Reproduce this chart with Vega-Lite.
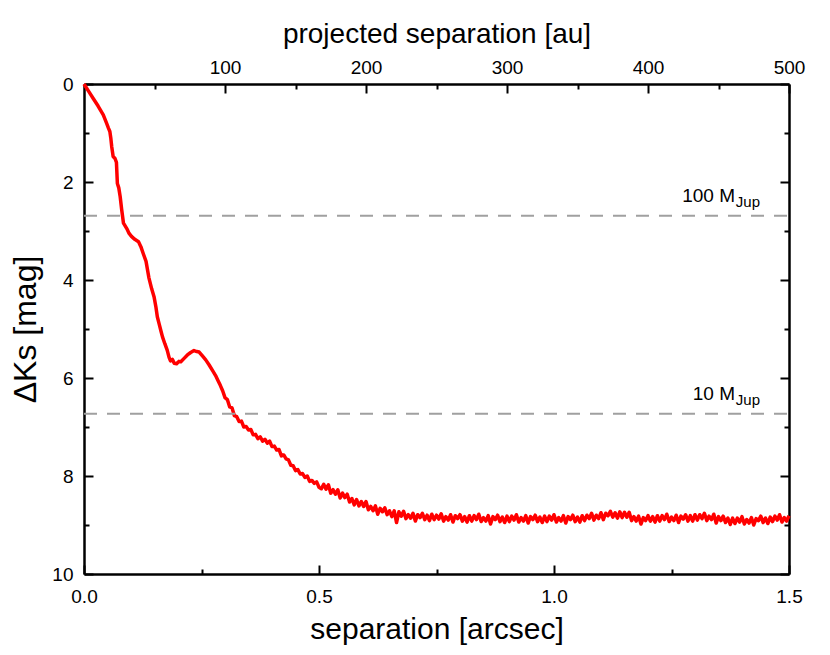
{
  "$schema": "https://vega.github.io/schema/vega-lite/v6.json",
  "width": 705,
  "height": 490,
  "autosize": {"type": "none"},
  "padding": {"left": 84, "top": 84, "right": 41, "bottom": 81},
  "background": "white",
  "config": {
    "view": {"stroke": null},
    "axis": {
      "grid": false,
      "labelFont": "Liberation Sans",
      "labelFontSize": 19,
      "labelColor": "black",
      "labelFlush": false,
      "labelOverlap": false,
      "tickColor": "black",
      "tickWidth": 2,
      "tickSize": -9,
      "domainColor": "black",
      "domainWidth": 2.5,
      "titleFont": "Liberation Sans",
      "titleFontWeight": "normal",
      "titleColor": "black",
      "titleFontSize": 30
    }
  },
  "datasets": {
    "curve": [
      {"sep":0.000,"dk":0.00},{"sep":0.010,"dk":0.15},{"sep":0.020,"dk":0.30},{"sep":0.030,"dk":0.45},{"sep":0.041,"dk":0.63},
      {"sep":0.048,"dk":0.80},{"sep":0.052,"dk":0.90},{"sep":0.055,"dk":0.97},{"sep":0.057,"dk":1.10},{"sep":0.059,"dk":1.28},
      {"sep":0.062,"dk":1.48},{"sep":0.066,"dk":1.52},{"sep":0.069,"dk":1.60},{"sep":0.071,"dk":2.03},{"sep":0.074,"dk":2.12},
      {"sep":0.077,"dk":2.30},{"sep":0.080,"dk":2.55},{"sep":0.084,"dk":2.84},{"sep":0.091,"dk":2.95},{"sep":0.096,"dk":3.05},
      {"sep":0.101,"dk":3.11},{"sep":0.108,"dk":3.17},{"sep":0.116,"dk":3.22},{"sep":0.121,"dk":3.32},{"sep":0.126,"dk":3.46},
      {"sep":0.132,"dk":3.62},{"sep":0.138,"dk":3.95},{"sep":0.144,"dk":4.18},{"sep":0.149,"dk":4.34},{"sep":0.153,"dk":4.55},
      {"sep":0.156,"dk":4.75},{"sep":0.160,"dk":4.90},{"sep":0.164,"dk":5.05},{"sep":0.167,"dk":5.16},{"sep":0.172,"dk":5.30},
      {"sep":0.177,"dk":5.43},{"sep":0.181,"dk":5.58},{"sep":0.184,"dk":5.65},{"sep":0.188,"dk":5.62},{"sep":0.192,"dk":5.70},
      {"sep":0.197,"dk":5.71},{"sep":0.202,"dk":5.66},{"sep":0.206,"dk":5.67},{"sep":0.213,"dk":5.60},{"sep":0.220,"dk":5.53},
      {"sep":0.227,"dk":5.48},{"sep":0.234,"dk":5.44},{"sep":0.240,"dk":5.46},{"sep":0.245,"dk":5.47},{"sep":0.252,"dk":5.55},
      {"sep":0.259,"dk":5.63},{"sep":0.266,"dk":5.73},{"sep":0.273,"dk":5.84},
      {"sep":0.280,"dk":5.95},{"sep":0.285,"dk":6.05},{"sep":0.290,"dk":6.15},{"sep":0.295,"dk":6.26},
      {"sep":0.300,"dk":6.40},{"sep":0.305,"dk":6.44},{"sep":0.310,"dk":6.59},{"sep":0.315,"dk":6.61},{"sep":0.320,"dk":6.77},
      {"sep":0.325,"dk":6.79},{"sep":0.330,"dk":6.89},{"sep":0.335,"dk":6.88},{"sep":0.340,"dk":7.00},{"sep":0.345,"dk":6.99},
      {"sep":0.350,"dk":7.06},{"sep":0.355,"dk":7.05},{"sep":0.360,"dk":7.16},{"sep":0.365,"dk":7.15},{"sep":0.370,"dk":7.24},
      {"sep":0.375,"dk":7.20},{"sep":0.380,"dk":7.29},{"sep":0.385,"dk":7.25},{"sep":0.390,"dk":7.33},{"sep":0.395,"dk":7.29},
      {"sep":0.400,"dk":7.40},{"sep":0.405,"dk":7.39},{"sep":0.410,"dk":7.47},{"sep":0.415,"dk":7.46},{"sep":0.420,"dk":7.59},
      {"sep":0.425,"dk":7.57},{"sep":0.430,"dk":7.65},{"sep":0.435,"dk":7.67},{"sep":0.440,"dk":7.78},{"sep":0.445,"dk":7.79},
      {"sep":0.450,"dk":7.89},{"sep":0.455,"dk":7.87},{"sep":0.460,"dk":7.96},{"sep":0.465,"dk":7.95},{"sep":0.470,"dk":8.03},
      {"sep":0.475,"dk":8.00},{"sep":0.480,"dk":8.11},{"sep":0.485,"dk":8.09},{"sep":0.490,"dk":8.15},{"sep":0.495,"dk":8.12},
      {"sep":0.500,"dk":8.23},
      {"sep":0.505,"dk":8.26},{"sep":0.510,"dk":8.17},{"sep":0.515,"dk":8.27},{"sep":0.520,"dk":8.18},{"sep":0.525,"dk":8.35},
      {"sep":0.530,"dk":8.28},{"sep":0.535,"dk":8.37},{"sep":0.540,"dk":8.28},{"sep":0.545,"dk":8.45},{"sep":0.550,"dk":8.35},
      {"sep":0.555,"dk":8.44},{"sep":0.560,"dk":8.37},{"sep":0.565,"dk":8.53},{"sep":0.570,"dk":8.46},{"sep":0.575,"dk":8.59},
      {"sep":0.580,"dk":8.48},{"sep":0.585,"dk":8.61},{"sep":0.590,"dk":8.52},{"sep":0.595,"dk":8.62},{"sep":0.600,"dk":8.52},
      {"sep":0.605,"dk":8.69},{"sep":0.610,"dk":8.62},{"sep":0.615,"dk":8.71},{"sep":0.620,"dk":8.61},{"sep":0.625,"dk":8.78},
      {"sep":0.630,"dk":8.66},{"sep":0.635,"dk":8.73},{"sep":0.640,"dk":8.65},{"sep":0.645,"dk":8.79},{"sep":0.650,"dk":8.71},
      {"sep":0.655,"dk":8.83},{"sep":0.660,"dk":8.71},{"sep":0.665,"dk":8.95},{"sep":0.670,"dk":8.73},{"sep":0.675,"dk":8.82},
      {"sep":0.680,"dk":8.72},{"sep":0.685,"dk":8.87},{"sep":0.690,"dk":8.79},{"sep":0.695,"dk":8.86},{"sep":0.700,"dk":8.76},
      {"sep":0.705,"dk":8.92},{"sep":0.710,"dk":8.79},{"sep":0.715,"dk":8.85},{"sep":0.720,"dk":8.76},{"sep":0.725,"dk":8.89},
      {"sep":0.730,"dk":8.80},{"sep":0.735,"dk":8.91},{"sep":0.740,"dk":8.78},{"sep":0.745,"dk":8.89},{"sep":0.750,"dk":8.80},
      {"sep":0.755,"dk":8.88},{"sep":0.760,"dk":8.77},{"sep":0.765,"dk":8.92},{"sep":0.770,"dk":8.83},{"sep":0.775,"dk":8.90},
      {"sep":0.780,"dk":8.79},{"sep":0.785,"dk":8.94},{"sep":0.790,"dk":8.81},{"sep":0.795,"dk":8.87},{"sep":0.800,"dk":8.79},
      {"sep":0.805,"dk":8.92},{"sep":0.810,"dk":8.83},{"sep":0.815,"dk":8.94},{"sep":0.820,"dk":8.81},{"sep":0.825,"dk":8.92},
      {"sep":0.830,"dk":8.81},{"sep":0.835,"dk":8.89},{"sep":0.840,"dk":8.78},{"sep":0.845,"dk":8.93},{"sep":0.850,"dk":8.85},
      {"sep":0.855,"dk":8.92},{"sep":0.860,"dk":8.81},{"sep":0.865,"dk":8.98},{"sep":0.870,"dk":8.83},{"sep":0.875,"dk":8.89},
      {"sep":0.880,"dk":8.80},{"sep":0.885,"dk":8.93},{"sep":0.890,"dk":8.84},{"sep":0.895,"dk":8.95},{"sep":0.900,"dk":8.82},
      {"sep":0.905,"dk":8.93},{"sep":0.910,"dk":8.82},{"sep":0.915,"dk":8.90},{"sep":0.920,"dk":8.79},{"sep":0.925,"dk":8.94},
      {"sep":0.930,"dk":8.85},{"sep":0.935,"dk":8.92},{"sep":0.940,"dk":8.81},{"sep":0.945,"dk":8.96},{"sep":0.950,"dk":8.83},
      {"sep":0.955,"dk":8.89},{"sep":0.960,"dk":8.80},{"sep":0.965,"dk":8.93},{"sep":0.970,"dk":8.84},{"sep":0.975,"dk":8.95},
      {"sep":0.980,"dk":8.82},{"sep":0.985,"dk":8.93},{"sep":0.990,"dk":8.82},{"sep":0.995,"dk":8.90},{"sep":1.000,"dk":8.79},
      {"sep":1.005,"dk":8.94},{"sep":1.010,"dk":8.85},{"sep":1.015,"dk":8.92},{"sep":1.020,"dk":8.81},{"sep":1.025,"dk":8.96},
      {"sep":1.030,"dk":8.83},{"sep":1.035,"dk":8.89},{"sep":1.040,"dk":8.80},{"sep":1.045,"dk":8.93},{"sep":1.050,"dk":8.84},
      {"sep":1.055,"dk":8.94},{"sep":1.060,"dk":8.81},{"sep":1.065,"dk":8.91},{"sep":1.070,"dk":8.80},{"sep":1.075,"dk":8.87},
      {"sep":1.080,"dk":8.76},{"sep":1.085,"dk":8.90},{"sep":1.090,"dk":8.80},{"sep":1.095,"dk":8.87},{"sep":1.100,"dk":8.75},
      {"sep":1.105,"dk":8.89},{"sep":1.110,"dk":8.76},{"sep":1.115,"dk":8.81},{"sep":1.120,"dk":8.72},{"sep":1.125,"dk":8.84},
      {"sep":1.130,"dk":8.75},{"sep":1.135,"dk":8.86},{"sep":1.140,"dk":8.73},{"sep":1.145,"dk":8.85},{"sep":1.150,"dk":8.74},
      {"sep":1.155,"dk":8.84},{"sep":1.160,"dk":8.74},{"sep":1.165,"dk":8.91},{"sep":1.170,"dk":8.83},{"sep":1.175,"dk":8.92},
      {"sep":1.180,"dk":8.82},{"sep":1.185,"dk":8.98},{"sep":1.190,"dk":8.85},{"sep":1.195,"dk":8.91},{"sep":1.200,"dk":8.81},
      {"sep":1.205,"dk":8.92},{"sep":1.210,"dk":8.83},{"sep":1.215,"dk":8.94},{"sep":1.220,"dk":8.81},{"sep":1.225,"dk":8.92},
      {"sep":1.230,"dk":8.81},{"sep":1.235,"dk":8.89},{"sep":1.240,"dk":8.78},{"sep":1.245,"dk":8.93},{"sep":1.250,"dk":8.84},
      {"sep":1.255,"dk":8.91},{"sep":1.260,"dk":8.80},{"sep":1.265,"dk":8.95},{"sep":1.270,"dk":8.82},{"sep":1.275,"dk":8.88},
      {"sep":1.280,"dk":8.79},{"sep":1.285,"dk":8.92},{"sep":1.290,"dk":8.81},{"sep":1.295,"dk":8.92},{"sep":1.300,"dk":8.79},
      {"sep":1.305,"dk":8.90},{"sep":1.310,"dk":8.79},{"sep":1.315,"dk":8.87},{"sep":1.320,"dk":8.76},{"sep":1.325,"dk":8.91},
      {"sep":1.330,"dk":8.82},{"sep":1.335,"dk":8.89},{"sep":1.340,"dk":8.78},{"sep":1.345,"dk":8.96},{"sep":1.350,"dk":8.83},
      {"sep":1.355,"dk":8.91},{"sep":1.360,"dk":8.82},{"sep":1.365,"dk":8.95},{"sep":1.370,"dk":8.86},{"sep":1.375,"dk":8.99},
      {"sep":1.380,"dk":8.86},{"sep":1.385,"dk":8.97},{"sep":1.390,"dk":8.86},{"sep":1.395,"dk":8.94},{"sep":1.400,"dk":8.83},
      {"sep":1.405,"dk":8.98},{"sep":1.410,"dk":8.89},{"sep":1.415,"dk":8.96},{"sep":1.420,"dk":8.85},{"sep":1.425,"dk":9.00},
      {"sep":1.430,"dk":8.87},{"sep":1.435,"dk":8.91},{"sep":1.440,"dk":8.82},{"sep":1.445,"dk":8.95},{"sep":1.450,"dk":8.86},
      {"sep":1.455,"dk":8.97},{"sep":1.460,"dk":8.84},{"sep":1.465,"dk":8.93},{"sep":1.470,"dk":8.82},{"sep":1.475,"dk":8.90},
      {"sep":1.480,"dk":8.79},{"sep":1.485,"dk":8.94},{"sep":1.490,"dk":8.85},{"sep":1.495,"dk":8.92},{"sep":1.500,"dk":8.81}
    ],
    "limits": [
      {"dk": 2.69, "label": "100 M", "sub": "Jup"},
      {"dk": 6.73, "label": "10 M", "sub": "Jup"}
    ]
  },
  "layer": [
    {
      "data": {"name": "curve"},
      "mark": {"type": "line", "color": "#ff0000", "strokeWidth": 3.5, "strokeJoin": "round"},
      "encoding": {
        "x": {
          "field": "sep", "type": "quantitative",
          "scale": {"domain": [0, 1.5], "nice": false, "zero": false},
          "axis": {"orient": "bottom", "values": [0, 0.5, 1.0, 1.5], "format": ".1f", "title": "separation [arcsec]", "labelPadding": 22, "titlePadding": 8}
        },
        "y": {
          "field": "dk", "type": "quantitative",
          "scale": {"domain": [0, 10], "nice": false, "reverse": true},
          "axis": {"orient": "left", "values": [0, 2, 4, 6, 8, 10], "title": "ΔKs [mag]", "titleFontSize": 32, "labelPadding": 20, "titlePadding": 9}
        }
      }
    },
    {
      "data": {"name": "limits"},
      "mark": {"type": "rule", "color": "#a0a0a0", "strokeWidth": 2, "strokeDash": [13, 10]},
      "encoding": {
        "x": {"datum": 0, "type": "quantitative",
          "axis": {"orient": "bottom", "values": [0.25, 0.75, 1.25], "labels": false, "domain": false, "tickSize": -5, "title": null}},
        "x2": {"datum": 1.5},
        "y": {"field": "dk", "type": "quantitative",
          "axis": {"orient": "left", "values": [1, 3, 5, 7, 9], "labels": false, "domain": false, "tickSize": -5, "title": null}}
      }
    },
    {
      "data": {"name": "limits"},
      "mark": {"type": "text", "align": "right", "baseline": "alphabetic", "dy": -14, "font": "Liberation Sans", "fontSize": 19, "color": "black"},
      "encoding": {
        "text": {"field": "label"},
        "x": {"datum": 1.3851, "type": "quantitative",
          "axis": {"orient": "top", "values": [0.3, 0.6, 0.9, 1.2, 1.5], "labelExpr": "round(datum.value * 1000 / 3)", "title": "projected separation [au]", "titleFontSize": 28, "labelPadding": 16, "titlePadding": 10}},
        "y": {"field": "dk", "type": "quantitative",
          "axis": {"orient": "right", "values": [0, 2, 4, 6, 8, 10], "labels": false, "title": null}}
      }
    },
    {
      "data": {"name": "limits"},
      "mark": {"type": "text", "align": "left", "baseline": "alphabetic", "dy": -9, "font": "Liberation Sans", "fontSize": 15, "color": "black"},
      "encoding": {
        "text": {"field": "sub"},
        "x": {"datum": 1.3868, "type": "quantitative",
          "axis": {"orient": "top", "values": [0.15, 0.45, 0.75, 1.05, 1.35], "labels": false, "domain": false, "tickSize": -5, "title": null}},
        "y": {"field": "dk", "type": "quantitative",
          "axis": {"orient": "right", "values": [1, 3, 5, 7, 9], "labels": false, "domain": false, "tickSize": -5, "title": null}}
      }
    }
  ],
  "resolve": {"axis": {"x": "independent", "y": "independent"}}
}
